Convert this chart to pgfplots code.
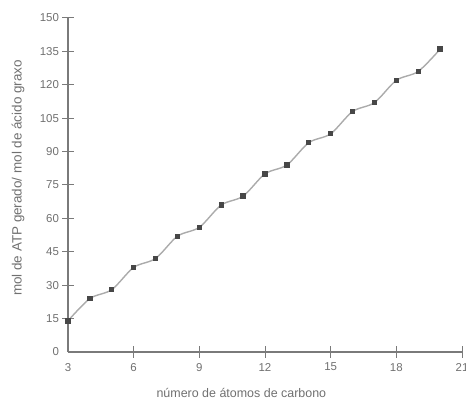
\documentclass[border=0pt]{standalone}
\usepackage{fontspec}
\setmainfont{Liberation Sans}
\usepackage{pgfplots}
\pgfplotsset{compat=1.18}
\definecolor{axgray}{HTML}{7A7A7A}
\definecolor{txtgray}{HTML}{707070}
\definecolor{lngray}{HTML}{ABABAB}
\definecolor{mkgray}{HTML}{474747}
\begin{document}
\begin{tikzpicture}
\begin{axis}[
  at={(68bp,49bp)}, anchor=south west,
  scale only axis, width=394bp, height=334bp,
  xmin=3, xmax=21, ymin=0, ymax=150,
  axis lines=left,
  axis line style={-, axgray, line width=1.1bp},
  tick style={axgray, line width=1bp},
  major tick length=11bp, tick align=center,
  xtick={6,9,...,21}, ytick={15,30,...,150},
  extra x ticks={3}, extra y ticks={0},
  extra x tick style={tick style={draw=none}},
  extra y tick style={tick style={draw=none}},
  /pgf/number format/assume math mode=true,
  tick label style={font=\fontsize{11.5}{13}\selectfont, text=txtgray},
  xticklabel style={yshift=-2bp},
  xlabel={número de átomos de carbono},
  ylabel={mol de ATP gerado/ mol de ácido graxo},
  xlabel style={at={(axis description cs:0.44,-0.1228)}, anchor=center, font=\fontsize{12.5}{14}\selectfont, text=txtgray},
  ylabel style={at={(axis description cs:-0.127,0.521)}, anchor=center, font=\fontsize{13.5}{15}\selectfont, text=txtgray},
  clip=false,
]
\addplot[lngray, line width=1.4bp, smooth, mark=square*, mark size=2bp,
  mark options={draw=mkgray, fill=mkgray}] coordinates {
  (3,14) (4,24) (5,28) (6,38) (7,42) (8,52) (9,56) (10,66) (11,70)
  (12,80) (13,84) (14,94) (15,98) (16,108) (17,112) (18,122) (19,126) (20,136)
};
\end{axis}
\pgfresetboundingbox
\path[use as bounding box] (0,0) rectangle (466bp,401bp);
\end{tikzpicture}
\end{document}
